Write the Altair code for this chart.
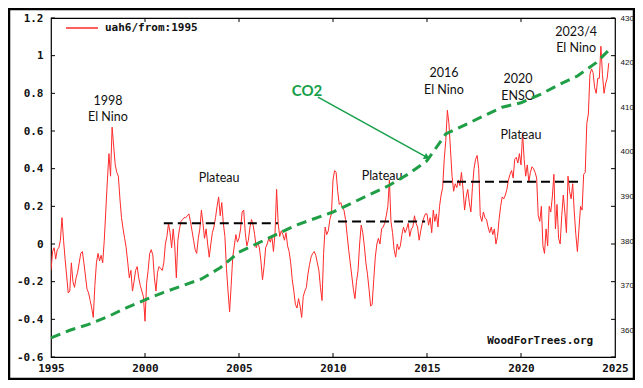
import altair as alt
import pandas as pd

# ---------------- data ----------------
# UAH v6 monthly anomaly (deg C), Jan of first year onward
uah_1995_99 = [
    -0.14, -0.04, -0.02, -0.08, -0.03, -0.02, 0.02, 0.14, 0.02, -0.08, -0.17, -0.26,
    -0.25, -0.10, -0.20, -0.23, -0.18, -0.15, -0.10, -0.05, -0.04, -0.10, -0.17, -0.24,
    -0.26, -0.30, -0.34, -0.39, -0.22, -0.10, -0.05, -0.09, -0.06, -0.10, 0.02, 0.18,
    0.34, 0.48, 0.36, 0.62, 0.52, 0.42, 0.38, 0.36, 0.24, 0.14, 0.08, 0.03,
    -0.02, -0.10, -0.18, -0.14, -0.25, -0.20, -0.14, -0.12, -0.18, -0.22, -0.25, -0.28,
]
uah_2000_04 = [
    -0.41, -0.21, -0.14, -0.05, -0.03, -0.06, -0.18, -0.25, -0.15, -0.12, -0.13, -0.14,
    -0.10, 0.00, 0.04, 0.11, 0.06, -0.02, 0.08, -0.01, -0.18, 0.02, 0.08, 0.12,
    0.13, 0.14, 0.14, 0.15, 0.16, 0.12, 0.07, 0.02, -0.03, -0.05, 0.03, 0.08,
    0.18, 0.11, 0.03, 0.08, 0.00, -0.07, 0.00, 0.06, 0.09, 0.14, 0.20, 0.25,
    0.15, 0.22, 0.11, 0.04, -0.13, -0.25, -0.36, -0.22, -0.07, -0.01, 0.05, 0.01,
]
uah_2005_09 = [
    0.03, 0.08, 0.17, 0.18, 0.06, -0.01, 0.02, 0.09, 0.13, 0.10, 0.05, -0.02,
    0.01, -0.02, -0.09, -0.19, -0.12, -0.02, 0.00, 0.03, 0.01, 0.04, -0.04, 0.06,
    0.29, 0.11, 0.04, 0.07, 0.05, 0.02, 0.06, -0.01, -0.04, -0.10, -0.19, -0.25,
    -0.32, -0.34, -0.29, -0.33, -0.39, -0.28, -0.25, -0.23, -0.16, -0.11, -0.07, -0.05,
    -0.04, -0.06, -0.10, -0.14, -0.23, -0.30, -0.05, 0.09, 0.05, 0.07, 0.13, 0.16,
]
uah_2010_14 = [
    0.34, 0.39, 0.38, 0.28, 0.21, 0.22, 0.19, 0.18, 0.13, 0.05, -0.03, -0.10,
    -0.17, -0.24, -0.29, -0.20, -0.14, 0.00, 0.10, 0.06, -0.01, -0.10, -0.16, -0.24,
    -0.33, -0.32, -0.19, -0.07, 0.00, 0.03, 0.00, 0.08, 0.09, 0.11, 0.15, 0.20,
    0.34, 0.12, 0.06, -0.03, -0.07, 0.00, -0.03, -0.01, 0.05, 0.09, 0.06, 0.08,
    0.11, 0.04, 0.08, 0.09, 0.15, 0.11, 0.09, 0.02, 0.07, 0.11, 0.14, 0.16,
]
uah_2015_19 = [
    0.16, 0.10, 0.14, 0.06, 0.18, 0.12, 0.16, 0.09, 0.20, 0.26, 0.30, 0.45,
    0.55, 0.71, 0.64, 0.50, 0.36, 0.28, 0.32, 0.30, 0.34, 0.31, 0.38, 0.29,
    0.18, 0.25, 0.29, 0.22, 0.17, 0.30, 0.40, 0.45, 0.47, 0.40, 0.15, 0.12,
    0.17, 0.14, 0.13, 0.09, 0.06, 0.09, 0.05, 0.08, 0.00, 0.04, 0.13, 0.20,
    0.25, 0.24, 0.26, 0.29, 0.34, 0.37, 0.39, 0.35, 0.45, 0.46, 0.43, 0.48,
]
uah_2020_24 = [
    0.42, 0.59, 0.45, 0.36, 0.42, 0.33, 0.38, 0.41, 0.40, 0.38, 0.35, 0.15,
    0.12, 0.20, -0.01, -0.05, 0.08, -0.01, 0.20, 0.17, 0.25, 0.37, 0.08, 0.21,
    0.03, 0.00, 0.15, 0.26, 0.17, 0.06, 0.36, 0.28, 0.24, 0.32, 0.17, 0.05,
    -0.04, 0.08, 0.20, 0.18, 0.37, 0.38, 0.64, 0.69, 0.90, 0.93, 0.91, 0.83,
    0.80, 0.88, 0.88, 1.05, 0.90, 0.80, 0.85, 0.88, 0.96,
]

# CO2 (ppm, right axis)
co2_year = [1995, 1996, 1997, 1998, 1999, 2000, 2001, 2002, 2003, 2004, 2005, 2006,
            2007, 2008, 2009, 2010, 2011, 2012, 2013, 2014, 2015, 2016, 2017, 2018,
            2019, 2020, 2021, 2022, 2023, 2024, 2024.8]
co2_ppm = [358.3, 360.0, 361.3, 363.0, 365.0, 366.8, 368.5, 370.0, 371.5, 374.0, 377.5, 379.5,
           381.5, 383.5, 385.0, 386.5, 388.5, 390.5, 392.5, 395.0, 398.0, 404.0, 406.0, 408.0,
           410.0, 411.0, 412.8, 415.0, 417.0, 420.0, 423.3]

# "Plateau" dashed levels
plateau_start = [2001.0, 2010.27, 2015.85]
plateau_end = [2007.07, 2014.9, 2023.3]
plateau_level = [0.11, 0.12, 0.33]

# annotations
ann_text = ["1998", "El Nino", "Plateau", "Plateau", "2016", "El Nino", "2020", "ENSO",
            "Plateau", "2023/4", "El Nino"]
ann_year = [1998.03, 1998.03, 2003.94, 2012.61, 2015.9, 2015.9, 2019.84, 2019.84,
            2020.0, 2022.93, 2022.93]
ann_value = [0.76, 0.675, 0.351, 0.362, 0.908, 0.818, 0.876, 0.786, 0.579, 1.126, 1.041]

co2_label = ["CO2"]
co2_label_year = [2008.62]
co2_label_value = [0.813]
arrow_from = [2009.2, 0.78]
arrow_to = [2015.0, 0.46]

watermark = ["WoodForTrees.org"]
watermark_year = [2018.2]
watermark_value = [-0.514]

legend_label = "uah6/from:1995"
y_ticks = [-0.6, -0.4, -0.2, 0.0, 0.2, 0.4, 0.6, 0.8, 1.0, 1.2]
x_ticks = [1995, 2000, 2005, 2010, 2015, 2020, 2025]
x_inner_ticks = [2000, 2005, 2010, 2015, 2020]
co2_ticks = [360, 370, 380, 390, 400, 410, 420, 430]

# ---------------- build ----------------
W, H = 564, 339
MONO = "DejaVu Sans Mono"
RED = "#ff2a2a"
GREEN = "#1f9e45"
GREEN_TXT = "#17a04a"

anoms = uah_1995_99 + uah_2000_04 + uah_2005_09 + uah_2010_14 + uah_2015_19 + uah_2020_24
uah = pd.DataFrame({
    "year": [1995 + i / 12 for i in range(len(anoms))],
    "anom": anoms,
    "series": legend_label,
})
co2 = pd.DataFrame({"year": co2_year, "ppm": co2_ppm})
plateaus = pd.DataFrame({"x1": plateau_start, "x2": plateau_end, "lvl": plateau_level})
ann = pd.DataFrame({"text": ann_text, "year": ann_year, "val": ann_value})
co2lab = pd.DataFrame({"text": co2_label, "year": co2_label_year, "val": co2_label_value})
arrow = pd.DataFrame({"x1": [arrow_from[0]], "y1": [arrow_from[1]],
                      "x2": [arrow_to[0]], "y2": [arrow_to[1]]})
wm = pd.DataFrame({"text": watermark, "year": watermark_year, "val": watermark_value})
yt = pd.DataFrame({"v": y_ticks})
xt = pd.DataFrame({"v": x_inner_ticks})

xs = alt.Scale(domain=[1995, 2025], nice=False, zero=False)
ys = alt.Scale(domain=[-0.6, 1.2], nice=False, zero=False)
cs = alt.Scale(domain=[354, 430], nice=False, zero=False)

XAX = alt.Axis(
    values=x_ticks, format="d", title=None, grid=False, ticks=False, domain=False,
    labelFont=MONO, labelFontWeight="bold", labelFontSize=11, labelColor="#111",
    labelPadding=5, labelFlush=False)
YAX = alt.Axis(
    values=y_ticks, title=None, grid=False, ticks=False, domain=False,
    labelExpr="replace(format(datum.value, '.1~f'), '\u2212', '-')",
    labelFont=MONO, labelFontWeight="bold", labelFontSize=11, labelColor="#111",
    labelPadding=8, labelFlush=False)


def X(field):
    return alt.X(field, scale=xs, axis=XAX, title=None)


def Y(field):
    return alt.Y(field, scale=ys, axis=YAX, title=None)


line = alt.Chart(uah).mark_line(strokeWidth=1, clip=True).encode(
    x=X("year:Q"),
    y=Y("anom:Q"),
    color=alt.Color("series:N", scale=alt.Scale(range=[RED]), legend=alt.Legend(
        title=None, orient="none", legendX=14, legendY=-7, symbolType="stroke",
        symbolSize=1024, symbolStrokeWidth=1.5, labelFont=MONO, labelFontWeight="bold",
        labelFontSize=11, labelColor="#111", labelOffset=6, padding=0)),
)

plat = alt.Chart(plateaus).mark_rule(color="black", strokeWidth=2, strokeDash=[9, 5]).encode(
    x=X("x1:Q"), x2="x2:Q", y=Y("lvl:Q"),
)

ann_marks = alt.Chart(ann).mark_text(font="Lato", fontSize=12.5, color="#111",
                                     align="center", baseline="middle").encode(
    x=X("year:Q"), y=Y("val:Q"), text="text:N",
)

co2_text = alt.Chart(co2lab).mark_text(font="Lato", fontSize=15, fontWeight="bold",
                                       color=GREEN_TXT, align="center", baseline="middle").encode(
    x=X("year:Q"), y=Y("val:Q"), text="text:N",
)

arrow_line = alt.Chart(arrow).mark_rule(color=GREEN_TXT, strokeWidth=1.5).encode(
    x=X("x1:Q"), x2="x2:Q", y=Y("y1:Q"), y2="y2:Q",
)
arrow_head = alt.Chart(arrow).mark_point(shape="triangle-right", filled=True, size=45,
                                         angle=29, color=GREEN_TXT, opacity=1).encode(
    x=X("x2:Q"), y=Y("y2:Q"),
)

wm_text = alt.Chart(wm).mark_text(font=MONO, fontWeight="bold", fontSize=11, color="#111",
                                  align="left", baseline="middle").encode(
    x=X("year:Q"), y=Y("val:Q"), text="text:N",
)

# inward tick marks on all four sides
tick_l = alt.Chart(yt).mark_rule(color="black", strokeWidth=1).encode(
    y=Y("v:Q"), x=alt.value(0), x2=alt.value(4))
tick_r = alt.Chart(yt).mark_rule(color="black", strokeWidth=1).encode(
    y=Y("v:Q"), x=alt.value(W - 4), x2=alt.value(W))
tick_b = alt.Chart(xt).mark_rule(color="black", strokeWidth=1).encode(
    x=X("v:Q"), y=alt.value(H - 4), y2=alt.value(H))
tick_t = alt.Chart(xt).mark_rule(color="black", strokeWidth=1).encode(
    x=X("v:Q"), y=alt.value(0), y2=alt.value(4))

frame = alt.Chart(pd.DataFrame({"a": [0]})).mark_rect(
    fillOpacity=0, stroke="black", strokeWidth=2.5).encode(
    x=alt.value(-42), x2=alt.value(W + 19), y=alt.value(-9), y2=alt.value(H + 22))

temp_group = alt.layer(line, tick_l, tick_r, tick_b, tick_t, plat, arrow_line, arrow_head,
                       ann_marks, co2_text, wm_text, frame)

co2_line = alt.Chart(co2).mark_line(color=GREEN, strokeWidth=3, strokeDash=[10, 6]).encode(
    x=X("year:Q"),
    y=alt.Y("ppm:Q", scale=cs, title=None, axis=alt.Axis(
        orient="right", values=co2_ticks, title=None, grid=False, ticks=False, domain=False,
        labelFont="Liberation Sans", labelFontSize=8, labelColor="#111", labelPadding=5,
        labelFlush=False)),
)

chart = alt.layer(temp_group, co2_line).resolve_scale(y="independent").properties(
    width=W, height=H,
    padding={"left": 43, "top": 10, "right": 20, "bottom": 23},
    autosize=alt.AutoSizeParams(type="none"),
    background="white",
).configure_view(stroke="black", strokeWidth=1.2)

chart.save("out.html", embed_options={"renderer": "svg", "actions": False})
